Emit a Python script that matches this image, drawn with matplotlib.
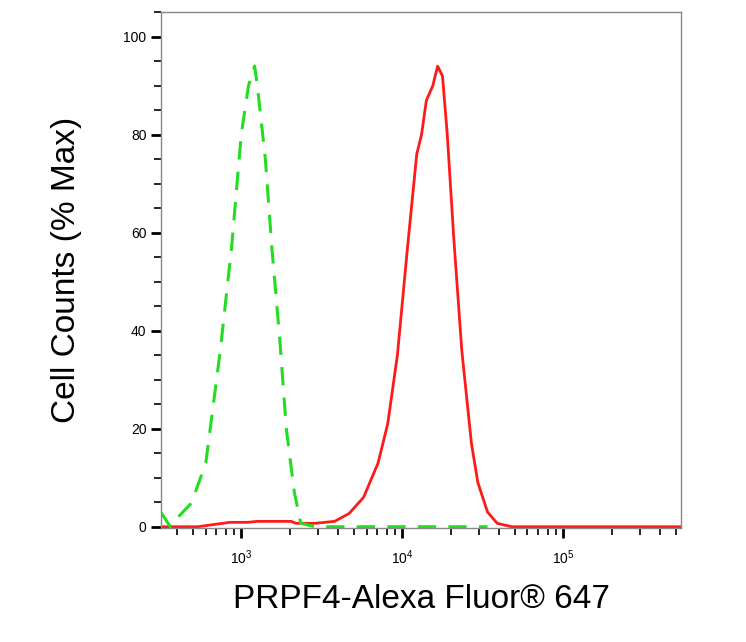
import numpy as np
import matplotlib
matplotlib.use('Agg')
import matplotlib.pyplot as plt
from matplotlib.ticker import LogLocator, MultipleLocator

plt.rcParams['font.family'] = ['Liberation Sans', 'DejaVu Sans']

# isotype control (green dashed), log10 intensity vs % max
ctrl_log = [2.50, 2.56, 2.60, 2.69, 2.78, 2.87, 2.94, 3.00, 3.045, 3.083, 3.10, 3.15,
            3.19, 3.24, 3.28, 3.33, 3.37, 3.46, 4.53]
ctrl_pct = [3, 0, 1.7, 4.8, 13, 36, 57, 80, 90, 94, 90, 75, 57, 38, 20, 7, 0.7, 0, 0]

# PRPF4 stained sample (red solid)
prpf4_log = [2.50, 2.73, 2.84, 2.93, 3.04, 3.10, 3.31, 3.34, 3.46, 3.58, 3.67, 3.76, 3.85,
             3.91, 3.97, 4.03, 4.09, 4.12, 4.15, 4.19, 4.22, 4.25, 4.28, 4.32, 4.37,
             4.43, 4.47, 4.53, 4.59, 4.68, 5.73]
prpf4_pct = [0, 0, 0.5, 0.9, 0.9, 1.1, 1.1, 0.7, 0.7, 1.1, 2.7, 6, 13, 21, 35, 56, 76,
             80, 87, 90, 94, 92, 80, 59, 36, 17, 9, 3, 0.7, 0, 0]

fig = plt.figure(figsize=(7.46, 6.42), dpi=100)
ax = fig.add_axes([0.216, 0.178, 0.697, 0.803])

ax.plot(10 ** np.array(prpf4_log), prpf4_pct, color='#ff1a1a', lw=2)
ax.plot(10 ** np.array(ctrl_log), ctrl_pct, color='#22dd22', lw=2.2, ls=(0, (6, 4)))

ax.set_xscale('log')
ax.set_xlim(318, 5.4e5)
ax.set_ylim(-0.2, 105)

ax.xaxis.set_major_locator(LogLocator(base=10, numticks=10))
ax.xaxis.set_minor_locator(LogLocator(base=10, subs=np.arange(2, 10), numticks=20))
ax.yaxis.set_major_locator(MultipleLocator(20))
ax.yaxis.set_minor_locator(MultipleLocator(5))
ax.tick_params(which='major', length=7, width=2, labelsize=10, direction='out')
ax.tick_params(which='minor', length=5, width=1.2, direction='out')
ax.tick_params(axis='x', which='major', pad=8)

for s in ax.spines.values():
    s.set_color('#888888')
    s.set_linewidth(1)

ax.set_ylabel('Cell Counts (% Max)', fontsize=24, labelpad=30)
ax.set_xlabel('PRPF4-Alexa Fluor® 647', fontsize=24, labelpad=12)

fig.savefig('out.png', dpi=100)
